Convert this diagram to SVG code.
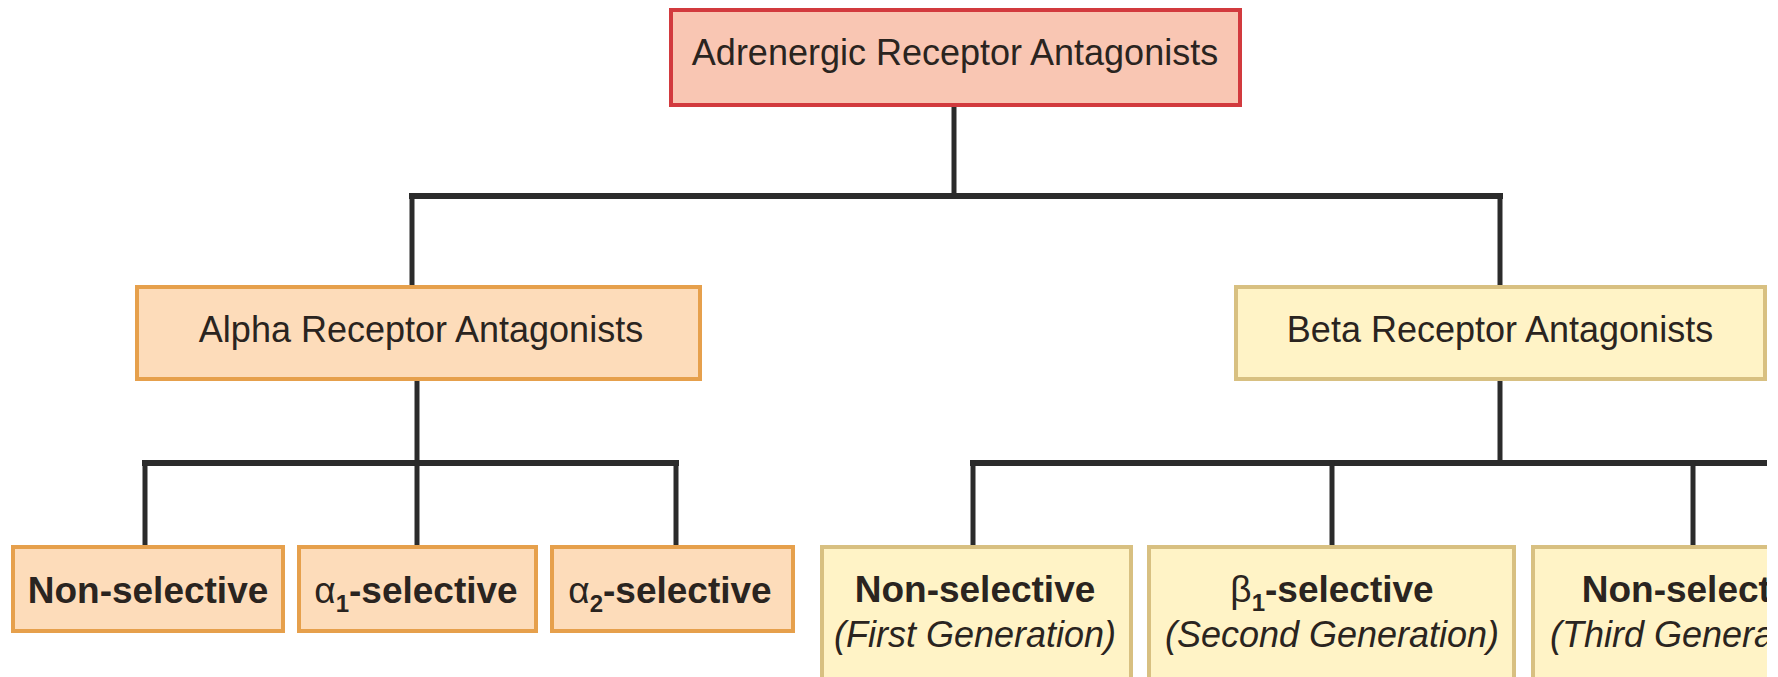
<svg xmlns="http://www.w3.org/2000/svg" width="1778" height="677" viewBox="0 0 1778 677">
<style>
.t{font-family:"Liberation Sans",Arial,sans-serif;fill:#2a2420;text-anchor:middle}
.reg{font-size:36px}
.b{font-size:37px;font-weight:bold}
.i{font-size:36px;font-style:italic}
.root{fill:#f9c6b3;stroke:#d23a3e;stroke-width:4}
.alpha{fill:#fddcba;stroke:#e6a04c;stroke-width:4}
.beta{fill:#fff3c6;stroke:#d8c081;stroke-width:4}
.ln{stroke:#2b2b2b;stroke-width:5;fill:none;stroke-linecap:square}
.bar{stroke:#2b2b2b;stroke-width:6;fill:none;stroke-linecap:square}
</style>
<defs>
<clipPath id="edge"><rect x="0" y="0" width="1767" height="677"/></clipPath>
</defs>
<rect width="1778" height="677" fill="#ffffff"/>
<g id="connectors">
<line class="ln" x1="954" y1="105" x2="954" y2="196"/>
<line class="bar" x1="412" y1="196" x2="1500" y2="196"/>
<line class="ln" x1="412" y1="196" x2="412" y2="287"/>
<line class="ln" x1="1500" y1="196" x2="1500" y2="287"/>
<line class="ln" x1="417" y1="379" x2="417" y2="463"/>
<line class="bar" x1="145" y1="463" x2="676" y2="463"/>
<line class="ln" x1="145" y1="463" x2="145" y2="547"/>
<line class="ln" x1="417" y1="463" x2="417" y2="547"/>
<line class="ln" x1="676" y1="463" x2="676" y2="547"/>
<line class="ln" x1="1500" y1="379" x2="1500" y2="463"/>
<line class="bar" x1="973" y1="463" x2="1764" y2="463"/>
<line class="ln" x1="973" y1="463" x2="973" y2="547"/>
<line class="ln" x1="1332" y1="463" x2="1332" y2="547"/>
<line class="ln" x1="1693" y1="463" x2="1693" y2="547"/>
</g>
<g id="root">
<rect class="root" x="671" y="10" width="569" height="95"/>
<text class="t reg" x="955" y="65">Adrenergic Receptor Antagonists</text>
</g>
<g id="alpha">
<rect class="alpha" x="137" y="287" width="563" height="92"/>
<text class="t reg" x="421" y="342">Alpha Receptor Antagonists</text>
</g>
<g id="beta">
<rect class="beta" x="1236" y="287" width="529" height="92"/>
<text class="t reg" x="1500" y="342">Beta Receptor Antagonists</text>
</g>
<g id="alpha-nonselective">
<rect class="alpha" x="13" y="547" width="270" height="84"/>
<text class="t b" x="148" y="603">Non-selective</text>
</g>
<g id="alpha1-selective">
<rect class="alpha" x="299" y="547" width="237" height="84"/>
<text class="t b" x="416" y="603"><tspan font-weight="normal">α</tspan><tspan font-size="24" dy="9">1</tspan><tspan dy="-9">-selective</tspan></text>
</g>
<g id="alpha2-selective">
<rect class="alpha" x="552" y="547" width="241" height="84"/>
<text class="t b" x="670" y="603"><tspan font-weight="normal">α</tspan><tspan font-size="24" dy="9">2</tspan><tspan dy="-9">-selective</tspan></text>
</g>
<g id="beta-nonselective-first">
<rect class="beta" x="822" y="547" width="309" height="140"/>
<text class="t b" x="975" y="602">Non-selective</text>
<text class="t i" x="975" y="647">(First Generation)</text>
</g>
<g id="beta1-selective">
<rect class="beta" x="1149" y="547" width="365" height="140"/>
<text class="t b" x="1332" y="602"><tspan font-weight="normal">β</tspan><tspan font-size="24" dy="9">1</tspan><tspan dy="-9">-selective</tspan></text>
<text class="t i" x="1332" y="647">(Second Generation)</text>
</g>
<g id="beta-nonselective-third" clip-path="url(#edge)">
<rect class="beta" x="1533" y="547" width="340" height="140"/>
<text class="t b" x="1702" y="602">Non-selective</text>
<text class="t i" x="1697" y="647">(Third Generation)</text>
</g>
</svg>
